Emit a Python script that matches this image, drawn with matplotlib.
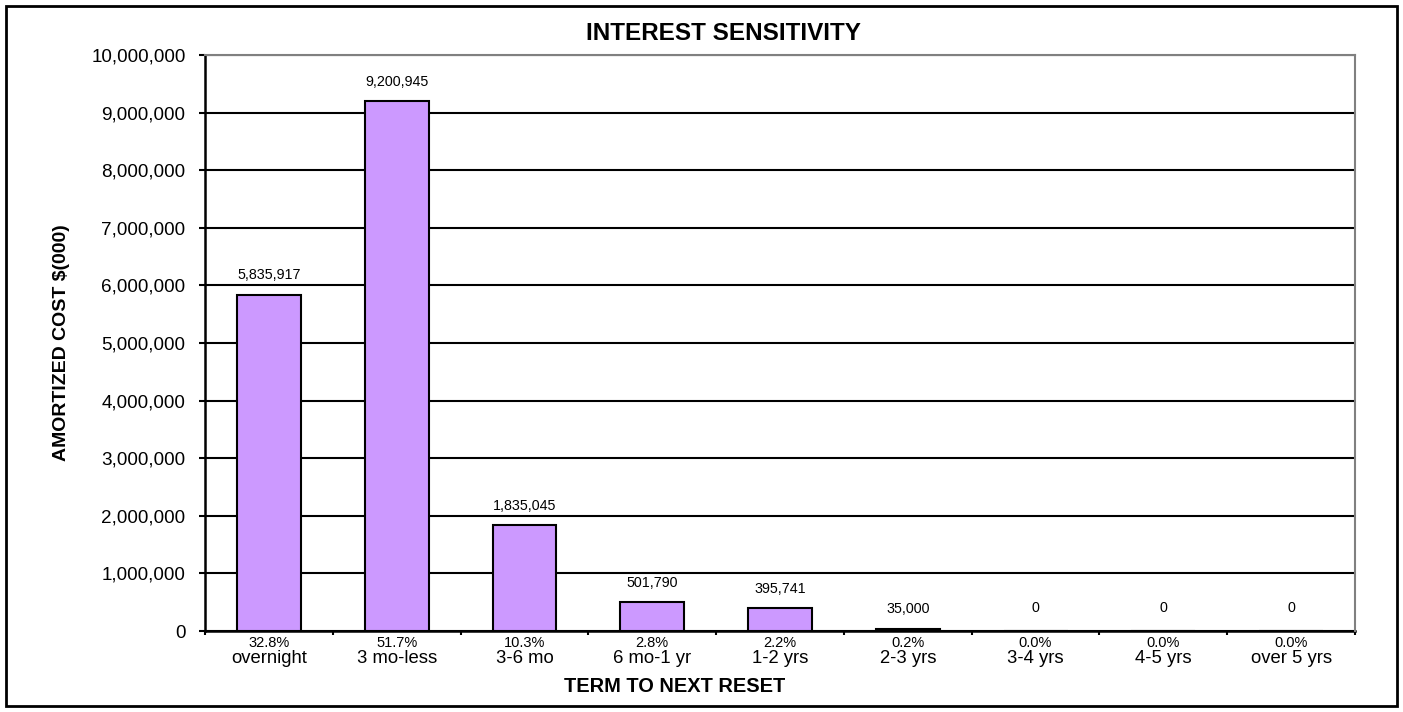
import matplotlib.pyplot as plt
from matplotlib.patches import Rectangle
from matplotlib.ticker import FuncFormatter, FixedLocator
import matplotlib.transforms as mtransforms

plt.rcParams["font.family"] = ["Liberation Sans", "DejaVu Sans"]

terms = ["overnight", "3 mo-less", "3-6 mo", "6 mo-1 yr", "1-2 yrs",
         "2-3 yrs", "3-4 yrs", "4-5 yrs", "over 5 yrs"]
amounts = [5835917, 9200945, 1835045, 501790, 395741, 35000, 0, 0, 0]

total = sum(amounts)
shares = [a / total * 100 for a in amounts]

W, H = 1403, 712
fig = plt.figure(figsize=(W / 100, H / 100), dpi=100)
ax = fig.add_axes([205 / W, 1 - 631 / H, 1150 / W, 576 / H])

x = range(len(terms))
ax.bar(x, amounts, width=0.5, color="#CC99FF", edgecolor="black",
       linewidth=1.5, zorder=3)

for i, a in enumerate(amounts):
    off = 9 if a > 0 else 11.5
    ax.annotate(f"{a:,}", (i, a), xytext=(0, off), textcoords="offset points",
                ha="center", va="bottom", fontsize=10.3)

ax.set_xlim(-0.5, len(terms) - 0.5)
ax.set_ylim(0, 10000000)
ax.set_yticks(range(0, 10000001, 1000000))
ax.yaxis.set_major_formatter(FuncFormatter(lambda v, p: f"{int(v):,}"))
ax.tick_params(axis="y", labelsize=13.6, length=4, width=1.5,
               direction="out", pad=10)
ax.grid(axis="y", color="black", linewidth=1.5, zorder=1)

# category boundaries get tick marks, names sit under the bars
ax.xaxis.set_major_locator(FixedLocator([i - 0.5 for i in range(len(terms) + 1)]))
ax.xaxis.set_major_formatter(FuncFormatter(lambda v, p: ""))
ax.tick_params(axis="x", length=3, width=1.5, direction="out")

trans = mtransforms.blended_transform_factory(ax.transData, ax.transAxes)
for i, (t, s) in enumerate(zip(terms, shares)):
    ax.text(i, -0.009, f"{s:.1f}%", transform=trans, ha="center", va="top",
            fontsize=10.5)
    ax.text(i, -0.033, t, transform=trans, ha="center", va="top",
            fontsize=13.3)

for side in ["left", "bottom"]:
    ax.spines[side].set_linewidth(1.8)
    ax.spines[side].set_color("black")
for side in ["top", "right"]:
    ax.spines[side].set_linewidth(1.5)
    ax.spines[side].set_color("#808080")
    ax.spines[side].set_zorder(4)

fig.text(723 / W, 1 - 34 / H, "INTEREST SENSITIVITY", fontsize=17.5,
         fontweight="bold", ha="center", va="center")
fig.text(675 / W, 1 - 686 / H, "TERM TO NEXT RESET", fontsize=14.4,
         fontweight="bold", ha="center", va="center")
fig.text(62 / W, 1 - 343 / H, "AMORTIZED COST $(000)", fontsize=14,
         fontweight="bold", ha="center", va="center", rotation=90)

fig.patches.append(Rectangle((6 / W, 6 / H), 1391 / W, 700 / H,
                             transform=fig.transFigure, fill=False,
                             edgecolor="black", linewidth=2))

fig.savefig("out.png", dpi=100)
